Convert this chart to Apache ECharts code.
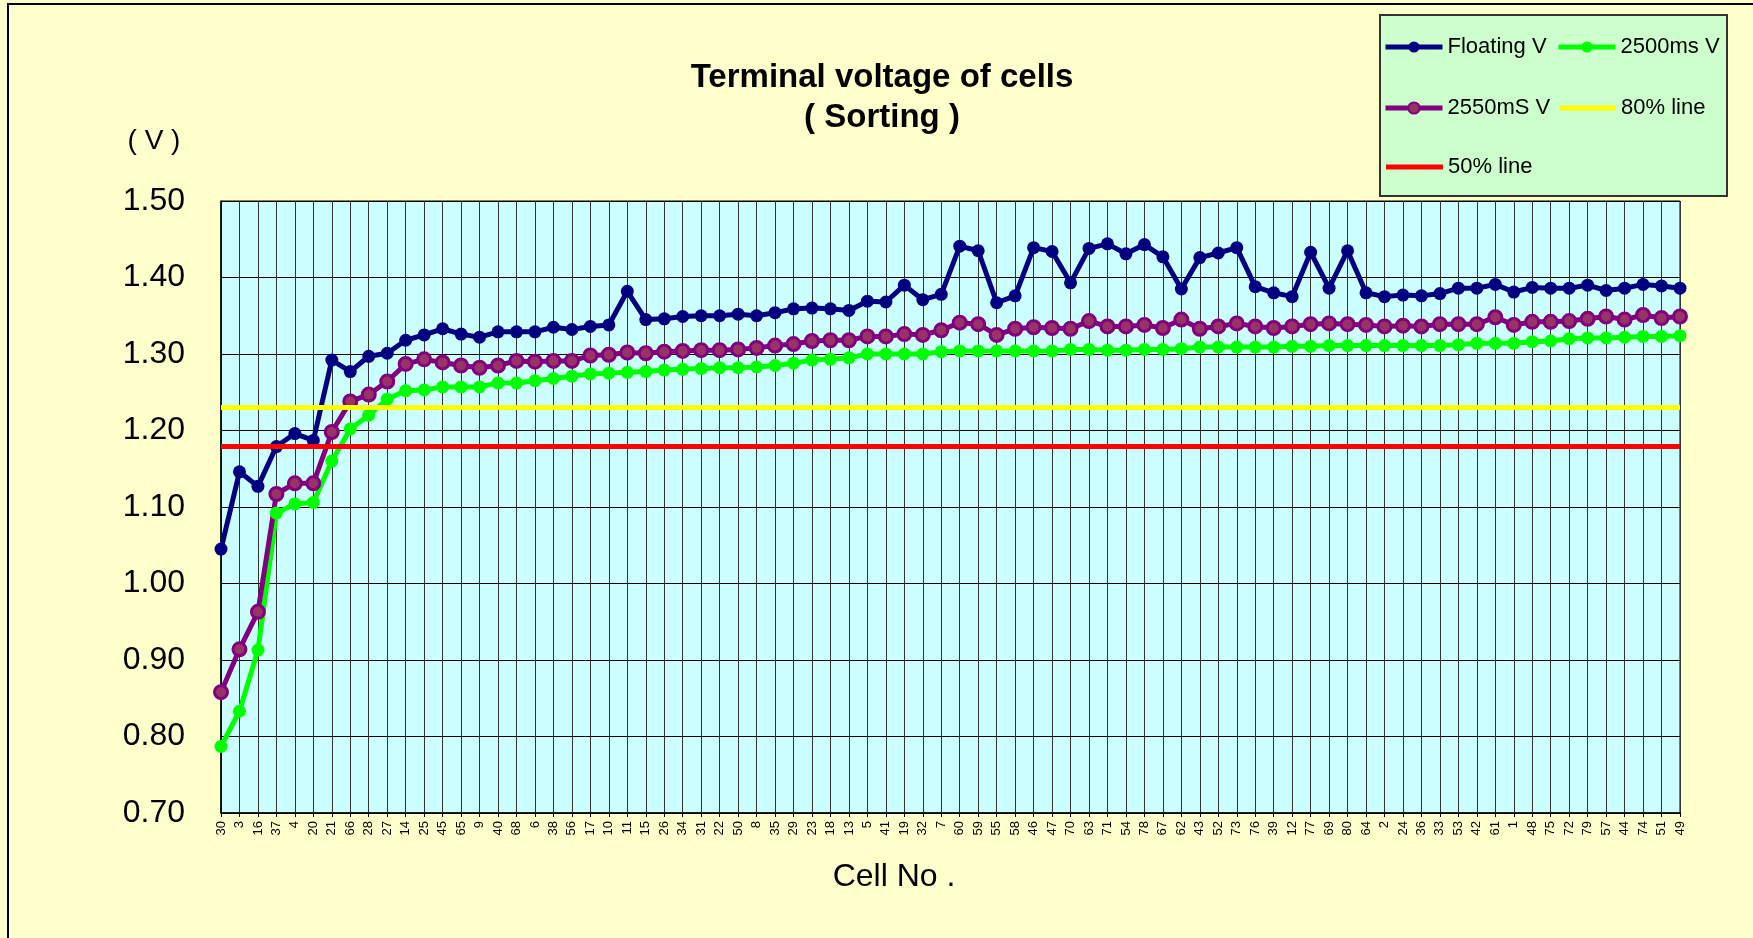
<!DOCTYPE html>
<html lang="en">
<head>
    <meta charset="UTF-8">
    <title>Terminal voltage of cells</title>
    <style>
        html, body { margin: 0; padding: 0; background: #ffffcc; }
    </style>
</head>
<body>
    <div id="container" style="width: 1753px;height: 938px"></div>
</body>
</html>
<script src="https://cdn.jsdelivr.net/npm/echarts@6/dist/echarts.min.js"></script>
<script>
// 电池编号（按电压排序后的顺序）
var cellNo = ['30','3','16','37','4','20','21','66','28','27','14','25','45','65','9','40','68','6','38','56',
    '17','10','11','15','26','34','31','22','50','8','35','29','23','18','13','5','41','19','32','7',
    '60','59','55','58','46','47','70','63','71','54','78','67','62','43','52','73','76','39','12','77',
    '69','80','64','2','24','36','33','53','42','61','1','48','75','72','79','57','44','74','51','49'];

var floatingV = [1.045,1.146,1.127,1.179,1.196,1.187,1.292,1.277,1.297,1.301,1.318,1.325,1.333,1.326,1.322,1.329,1.329,1.329,1.335,1.332,
    1.336,1.338,1.382,1.345,1.346,1.349,1.350,1.350,1.352,1.350,1.354,1.359,1.360,1.359,1.357,1.369,1.368,1.390,1.371,1.378,
    1.441,1.435,1.367,1.376,1.439,1.434,1.393,1.438,1.444,1.431,1.443,1.427,1.385,1.426,1.432,1.439,1.388,1.380,1.375,1.433,
    1.386,1.435,1.380,1.375,1.377,1.376,1.379,1.386,1.386,1.391,1.381,1.387,1.386,1.386,1.390,1.383,1.386,1.391,1.389,1.386];

var v2500ms = [0.787,0.833,0.913,1.092,1.104,1.106,1.160,1.202,1.220,1.241,1.252,1.253,1.257,1.257,1.257,1.262,1.262,1.265,1.268,1.271,
    1.274,1.275,1.276,1.277,1.279,1.280,1.281,1.282,1.282,1.283,1.285,1.288,1.292,1.293,1.295,1.300,1.300,1.300,1.300,1.303,
    1.304,1.304,1.304,1.304,1.304,1.304,1.306,1.306,1.305,1.305,1.306,1.306,1.307,1.309,1.309,1.309,1.309,1.309,1.310,1.310,
    1.311,1.311,1.311,1.311,1.311,1.311,1.311,1.312,1.314,1.314,1.314,1.316,1.317,1.320,1.321,1.321,1.322,1.323,1.323,1.324];

var v2550ms = [0.858,0.914,0.963,1.117,1.131,1.131,1.198,1.238,1.247,1.264,1.287,1.293,1.289,1.285,1.282,1.285,1.291,1.290,1.291,1.291,
    1.298,1.299,1.302,1.301,1.303,1.304,1.305,1.305,1.306,1.308,1.311,1.313,1.317,1.318,1.318,1.323,1.323,1.326,1.325,1.331,
    1.341,1.339,1.325,1.333,1.335,1.334,1.333,1.343,1.336,1.336,1.338,1.334,1.345,1.333,1.336,1.340,1.336,1.334,1.336,1.339,
    1.340,1.339,1.338,1.336,1.337,1.336,1.339,1.339,1.339,1.348,1.338,1.342,1.342,1.343,1.346,1.349,1.345,1.351,1.347,1.349];

var line80 = 1.23;
var line50 = 1.18;

var yTicks = [0.70, 0.80, 0.90, 1.00, 1.10, 1.20, 1.30, 1.40, 1.50];

var font = '"Liberation Sans", Arial, sans-serif';

var sensor = echarts.init(document.getElementById('container'));

// 图例：每一项单独摆放，参考线用粗矩形代替
function legendItem(name, x, cy, plain) {
    var h = plain ? 5 : 14;
    return {
        data: plain ? [{ name: name, icon: 'rect' }] : [name],
        left: plain ? x : x - 3,
        top: cy - 12,
        padding: 0,
        itemWidth: 57,
        itemHeight: h,
        selectedMode: false,
        lineStyle: { width: 5 },
        textStyle: { fontSize: 22, lineHeight: 24, color: '#000', fontFamily: font }
    };
}

function refLine(name, color, value) {
    return {
        name: name,
        type: 'line',
        data: [],
        symbol: 'none',
        z: 2,
        lineStyle: { color: color, width: 5 },
        itemStyle: { color: color },
        markLine: {
            silent: true,
            symbol: 'none',
            label: { show: false },
            lineStyle: { color: color, width: 5, type: 'solid' },
            data: [{ yAxis: value }]
        }
    };
}

sensor.setOption({
    backgroundColor: '#ffffcc',
    animation: false,
    title: {
        text: 'Terminal voltage of cells\n( Sorting )',
        left: 882,
        top: 58,
        padding: 0,
        textAlign: 'center',
        textStyle: {
            fontSize: 33,
            fontWeight: 'bold',
            lineHeight: 40,
            color: '#000',
            fontFamily: font
        }
    },
    legend: [
        legendItem('Floating V', 1386, 47),
        legendItem('2500ms V', 1559, 47),
        legendItem('2550mS V', 1386, 108),
        legendItem('80% line', 1559, 108, true),
        legendItem('50% line', 1386, 167, true)
    ],
    graphic: [
        {
            type: 'rect',
            z: -10,
            silent: true,
            shape: { x: 8, y: 4, width: 1760, height: 950 },
            style: { fill: 'none', stroke: '#000', lineWidth: 2 }
        },
        {
            type: 'rect',
            z: -5,
            silent: true,
            shape: { x: 1380, y: 15, width: 347, height: 181 },
            style: { fill: '#ccffcc', stroke: '#333', lineWidth: 2 }
        },
        {
            type: 'text',
            x: 154,
            y: 141,
            silent: true,
            style: { text: '( V )', fontSize: 28, fontFamily: font, fill: '#000', align: 'center', verticalAlign: 'middle' }
        },
        {
            type: 'text',
            x: 894,
            y: 877,
            silent: true,
            style: { text: 'Cell No .', fontSize: 32, fontFamily: font, fill: '#000', align: 'center', verticalAlign: 'middle' }
        }
    ],
    grid: {
        left: 221,
        top: 201,
        width: 1459,
        height: 612,
        show: true,
        backgroundColor: '#ccffff',
        borderColor: '#000',
        borderWidth: 1
    },
    xAxis: {
        type: 'category',
        boundaryGap: false,
        data: cellNo,
        axisLine: { lineStyle: { color: '#000', width: 1.5 } },
        axisTick: { show: true, length: 4, lineStyle: { color: '#000' } },
        axisLabel: { interval: 0, rotate: 90, fontSize: 13, margin: 8, color: '#000', fontFamily: font },
        splitLine: { show: true, interval: 0, lineStyle: { color: '#333', width: 1 } }
    },
    yAxis: {
        type: 'value',
        min: yTicks[0],
        max: yTicks[yTicks.length - 1],
        interval: 0.1,
        axisLine: { show: true, lineStyle: { color: '#000', width: 1.5 } },
        axisTick: { show: true, inside: true, length: 8, lineStyle: { color: '#000' } },
        axisLabel: {
            fontSize: 32,
            margin: 36,
            color: '#000',
            fontFamily: font,
            formatter: function (v) { return v.toFixed(2); }
        },
        splitLine: { show: true, lineStyle: { color: '#000', width: 1 } }
    },
    series: [
        {
            name: 'Floating V',
            type: 'line',
            data: floatingV,
            z: 4,
            symbol: 'circle',
            symbolSize: 13,
            lineStyle: { color: '#000080', width: 5 },
            itemStyle: { color: '#000080' }
        },
        {
            name: '2500ms V',
            type: 'line',
            data: v2500ms,
            z: 3,
            symbol: 'circle',
            symbolSize: 13,
            lineStyle: { color: '#00ff00', width: 5 },
            itemStyle: { color: '#00ff00' }
        },
        {
            name: '2550mS V',
            type: 'line',
            data: v2550ms,
            z: 3,
            symbol: 'circle',
            symbolSize: 13,
            lineStyle: { color: '#800080', width: 5 },
            itemStyle: { color: '#993366', borderColor: '#800080', borderWidth: 3 }
        },
        refLine('80% line', '#ffff00', line80),
        refLine('50% line', '#ff0000', line50)
    ]
});
</script>
